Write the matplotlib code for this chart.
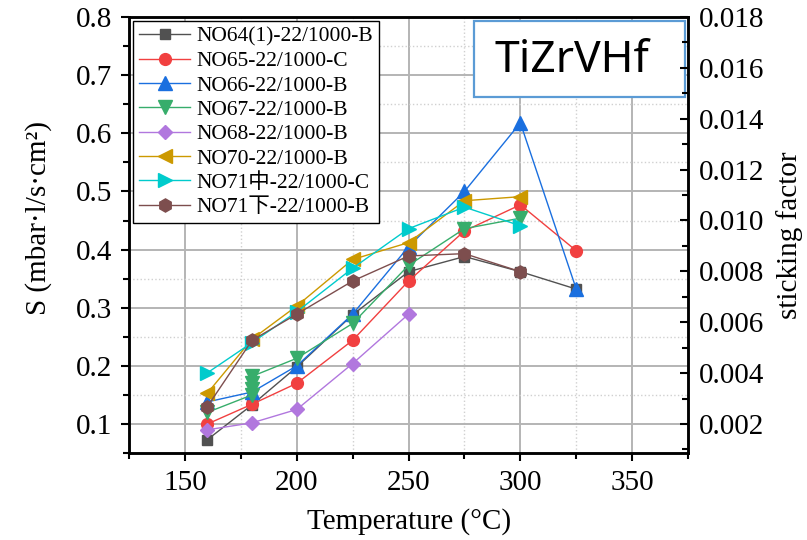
import matplotlib
matplotlib.use("Agg")
import matplotlib.pyplot as plt
from matplotlib.patches import Rectangle
from matplotlib.ticker import MultipleLocator, FormatStrFormatter

plt.rcParams['font.family'] = ['Liberation Serif', 'Noto Sans CJK SC', 'DejaVu Sans']

# data
labels = ["NO64(1)-22/1000-B", "NO65-22/1000-C", "NO66-22/1000-B", "NO67-22/1000-B",
          "NO68-22/1000-B", "NO70-22/1000-B", "NO71中-22/1000-C", "NO71下-22/1000-B"]

t64 = [160, 180, 200, 225, 250, 275, 300, 325]
s64 = [0.073, 0.133, 0.198, 0.288, 0.362, 0.388, 0.362, 0.332]
t65 = [160, 180, 200, 225, 250, 275, 300, 325]
s65 = [0.100, 0.134, 0.170, 0.244, 0.346, 0.432, 0.477, 0.398]
t66 = [160, 180, 200, 225, 250, 275, 300, 325]
s66 = [0.138, 0.155, 0.200, 0.289, 0.405, 0.500, 0.618, 0.332]
t67 = [160, 180, 180, 180, 180, 200, 225, 250, 275, 300]
s67 = [0.120, 0.150, 0.160, 0.170, 0.182, 0.213, 0.273, 0.373, 0.436, 0.454]
t68 = [160, 180, 200, 225, 250]
s68 = [0.090, 0.102, 0.125, 0.204, 0.289]
t70 = [160, 180, 200, 225, 250, 275, 300]
s70 = [0.153, 0.246, 0.303, 0.383, 0.412, 0.484, 0.491]
t71m = [160, 180, 200, 225, 250, 275, 300]
s71m = [0.188, 0.240, 0.293, 0.368, 0.436, 0.473, 0.441]
t71b = [160, 180, 200, 225, 250, 275, 300]
s71b = [0.130, 0.244, 0.289, 0.346, 0.389, 0.393, 0.362]

series = [(t64, s64), (t65, s65), (t66, s66), (t67, s67),
          (t68, s68), (t70, s70), (t71m, s71m), (t71b, s71b)]
colors = ["#515151", "#F14040", "#1A6FDF", "#37AD6B", "#B177DE", "#CC9900", "#00CBCC", "#7D4E4E"]
markers = ["s", "o", "^", "v", "D", "<", ">", "h"]
msizes = [7.5, 8.5, 9.5, 9.5, 7.5, 9.5, 9.5, 9.5]

fig = plt.figure(figsize=(8.07, 5.4), dpi=100)
ax = fig.add_axes([0.160, 0.161, 0.6926, 0.8075])

for (t, s), lab, c, m, ms in zip(series, labels, colors, markers, msizes):
    ax.plot(t, s, color=c, marker=m, markersize=ms, linewidth=1.0, label=lab, zorder=3)

ax.set_xlim(125, 375)
ax.set_ylim(0.05, 0.8)
ax.xaxis.set_major_locator(MultipleLocator(50))
ax.xaxis.set_minor_locator(MultipleLocator(25))
ax.yaxis.set_major_locator(MultipleLocator(0.1))
ax.yaxis.set_minor_locator(MultipleLocator(0.05))
ax.yaxis.set_major_formatter(FormatStrFormatter('%.1f'))
ax.grid(which='major', color='#b4b4b4', linewidth=1.4, linestyle='-')
ax.grid(which='minor', color='#d0d0d0', linewidth=1.0, linestyle=':')
ax.set_axisbelow(True)
ax.tick_params(which='major', direction='out', length=6, width=1.5, labelsize=21, pad=6)
ax.tick_params(which='minor', direction='out', length=4, width=1.5)
for sp in ax.spines.values():
    sp.set_linewidth(1.8)

ax.set_xlabel("Temperature (°C)", fontsize=21, labelpad=9)
ax.set_ylabel("S (mbar·l/s·cm²)", fontsize=21, labelpad=17)
ax.yaxis.label.set_y(0.54)

ax2 = ax.twinx()
ax2.set_ylim(0.002 - 0.05 * 0.016 / 0.7, 0.018)
ax2.yaxis.set_major_locator(MultipleLocator(0.002))
ax2.yaxis.set_minor_locator(MultipleLocator(0.001))
ax2.yaxis.set_major_formatter(FormatStrFormatter('%.3f'))
ax2.tick_params(which='major', direction='in', length=6, width=1.5, labelsize=21, pad=8)
ax2.tick_params(which='minor', direction='in', length=4, width=1.5)
ax2.set_ylabel("sticking factor", fontsize=21, labelpad=8)
for sp in ax2.spines.values():
    sp.set_linewidth(1.8)

leg = ax.legend(loc='upper left', bbox_to_anchor=(0.0, 1.0), fontsize=15.5, frameon=True,
                fancybox=False, edgecolor='black', framealpha=1, borderpad=0.25,
                labelspacing=0.2, handlelength=2.4, handletextpad=0.3, borderaxespad=0.2)
leg.get_frame().set_linewidth(1.0)

ax.add_patch(Rectangle((0.617, 0.8165), 0.378, 0.1745, transform=ax.transAxes,
                       facecolor='white', edgecolor='#5B9BD5', linewidth=1.6, zorder=5))
ax.text(0.793, 0.898, "TiZrVHf", transform=ax.transAxes, ha='center', va='center',
        fontsize=32, family='Noto Sans', zorder=6)

fig.savefig("out.png", dpi=100)
